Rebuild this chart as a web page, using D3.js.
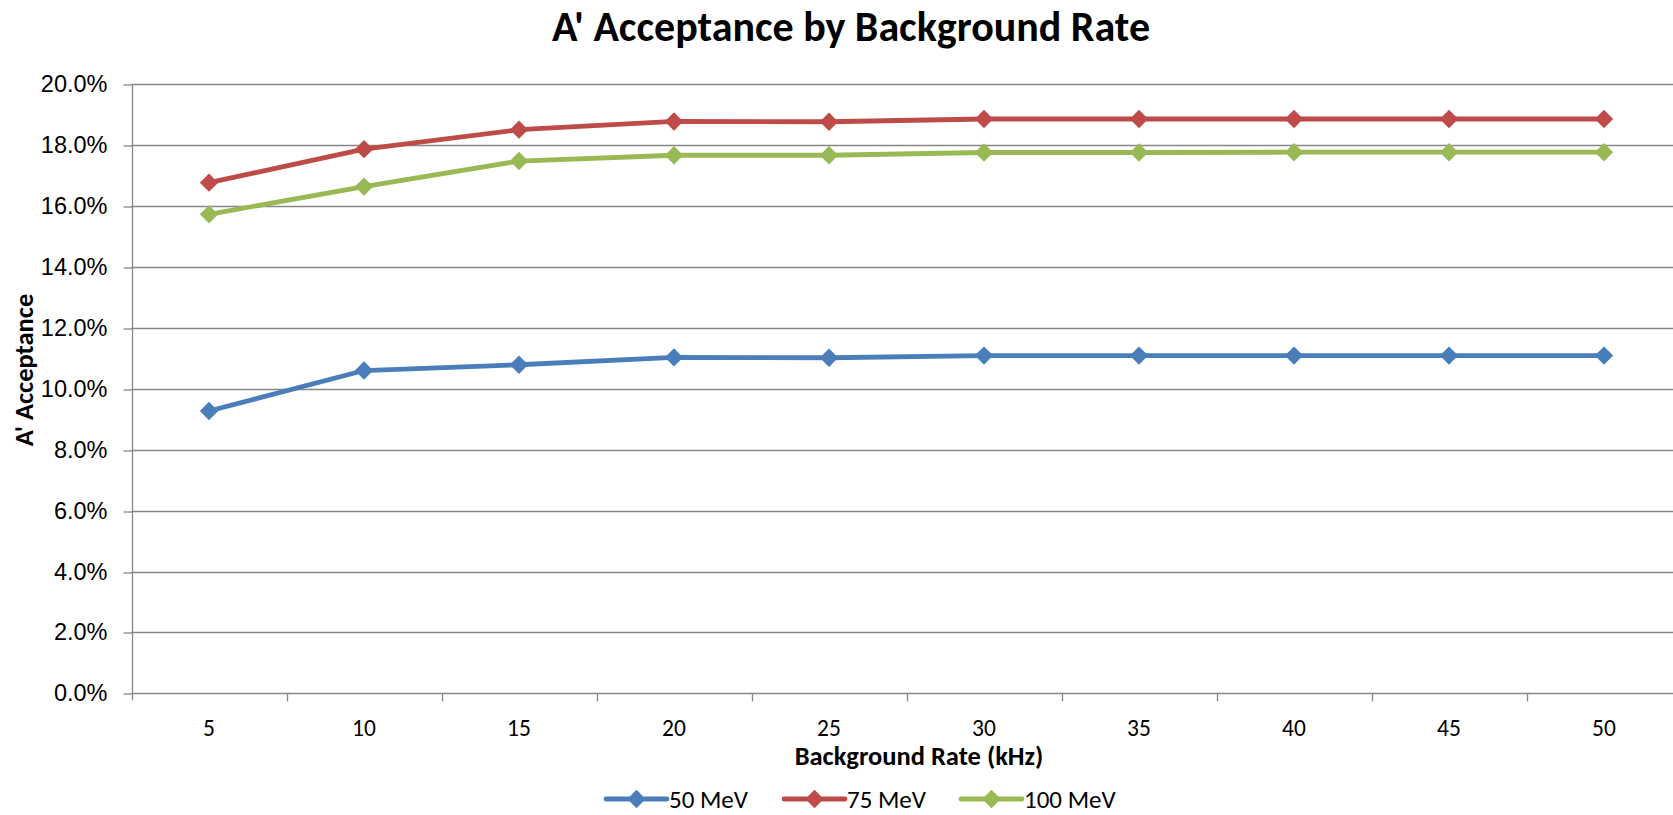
<!DOCTYPE html>
<html>
<head>
<meta charset="utf-8">
<script src="https://cdn.jsdelivr.net/npm/d3@7"></script>
<style>
  html, body { margin: 0; padding: 0; background: #fff; overflow: hidden; }
  svg { display: block; font-family: Carlito, Lato, "Open Sans", sans-serif; }
</style>
</head>
<body>
<svg id="chart" width="1673" height="815"></svg>
<script>
// Background rate categories (kHz)
const rates = ["5", "10", "15", "20", "25", "30", "35", "40", "45", "50"];

// A' acceptance per beam energy
const acc50  = [0.0927, 0.1060, 0.1079, 0.1103, 0.1102, 0.1109, 0.1109, 0.1109, 0.1109, 0.1109];
const acc75  = [0.1677, 0.1787, 0.1851, 0.1878, 0.1877, 0.1886, 0.1886, 0.1886, 0.1886, 0.1886];
const acc100 = [0.1573, 0.1664, 0.1748, 0.1767, 0.1767, 0.1776, 0.1776, 0.1777, 0.1777, 0.1777];

const seriesNames = ["50 MeV", "75 MeV", "100 MeV"];
const yTicks = [0, 0.02, 0.04, 0.06, 0.08, 0.10, 0.12, 0.14, 0.16, 0.18, 0.20];

const colors = ["#4A7EBB", "#BE4B48", "#98B954"];
const series = [acc50, acc75, acc100].map((values, i) => ({
  name: seriesNames[i], color: colors[i], values
}));

const svg = d3.select("#chart");
const plot = { left: 131.5, right: 1681.5, top: 84.3, bottom: 693.3 };
const gridColor = "#878787";

const x = d3.scaleBand().domain(rates).range([plot.left, plot.right]).padding(0);
const y = d3.scaleLinear().domain([0, 0.20]).range([plot.bottom, plot.top]);
const cx = d => x(d) + x.bandwidth() / 2;

// Title
svg.append("text")
  .attr("x", 851).attr("y", 41)
  .attr("text-anchor", "middle")
  .style("font-weight", "bold").style("font-size", "42px")
  .text("A' Acceptance by Background Rate");

// Horizontal gridlines
svg.append("g").selectAll("line").data(yTicks.slice(1)).join("line")
  .attr("x1", plot.left).attr("x2", plot.right)
  .attr("y1", d => Math.round(y(d)) + 0.5).attr("y2", d => Math.round(y(d)) + 0.5)
  .attr("stroke", gridColor).attr("stroke-width", 1.3);

// Y axis
const yAxis = svg.append("g")
  .attr("transform", `translate(${Math.round(plot.left) + 0.5},0)`)
  .call(d3.axisLeft(y).tickValues(yTicks).tickFormat(d3.format(".1%")).tickSize(9).tickPadding(16));
yAxis.select(".domain").remove();
yAxis.append("line")
  .attr("x1", 0).attr("x2", 0)
  .attr("y1", plot.top).attr("y2", plot.bottom + 7)
  .attr("stroke", gridColor).attr("stroke-width", 1.3);
yAxis.selectAll(".tick line").attr("stroke", gridColor).attr("stroke-width", 1.3)
  .attr("transform", d => `translate(0,${Math.round(y(d)) + 0.5 - y(d)})`);
yAxis.selectAll(".tick text")
  .style("font-size", "23.5px").style("font-family", null).attr("fill", "#000");

// X axis: ticks at category boundaries, labels at centres
const xAxis = svg.append("g").attr("transform", `translate(0,${Math.round(plot.bottom) + 0.5})`);
xAxis.append("line")
  .attr("x1", plot.left).attr("x2", plot.right)
  .attr("stroke", gridColor).attr("stroke-width", 1.3);
xAxis.selectAll("line.tk").data(rates.slice(1)).join("line").attr("class", "tk")
  .attr("x1", d => Math.round(x(d)) + 0.5).attr("x2", d => Math.round(x(d)) + 0.5)
  .attr("y1", 0).attr("y2", 8)
  .attr("stroke", gridColor).attr("stroke-width", 1.3);
xAxis.selectAll("text").data(rates).join("text")
  .attr("x", d => cx(d)).attr("y", 42)
  .attr("text-anchor", "middle")
  .style("font-size", "23.5px")
  .text(d => d);

// Axis titles
svg.append("text")
  .attr("x", 919).attr("y", 765)
  .attr("text-anchor", "middle")
  .style("font-weight", "bold").style("font-size", "26.5px")
  .text("Background Rate (kHz)");

svg.append("text")
  .attr("transform", "translate(33,370) rotate(-90)")
  .attr("text-anchor", "middle")
  .style("font-weight", "bold").style("font-size", "26.5px")
  .text("A' Acceptance");

// Series lines and diamond markers
const line = d3.line().x((v, i) => cx(rates[i])).y(v => y(v));
const diamond = d3.symbol().type(d3.symbolDiamond2).size(215);

const gSeries = svg.append("g").selectAll("g").data(series).join("g");
gSeries.append("path")
  .attr("d", d => line(d.values))
  .attr("fill", "none").attr("stroke", d => d.color)
  .attr("stroke-width", 4.8).attr("stroke-linejoin", "round");
gSeries.selectAll("path.mk").data(d => d.values.map((v, i) => ({ v, i, color: d.color }))).join("path")
  .attr("class", "mk")
  .attr("transform", d => `translate(${cx(rates[d.i])},${y(d.v)})`)
  .attr("d", diamond)
  .attr("fill", d => d.color);

// Legend
const legendX = [606, 784, 961];
const legend = svg.append("g").selectAll("g").data(series).join("g")
  .attr("transform", (d, i) => `translate(${legendX[i]},799)`);
legend.append("line")
  .attr("x1", 0).attr("x2", 61)
  .attr("stroke", d => d.color).attr("stroke-width", 4.8).attr("stroke-linecap", "round");
legend.append("path")
  .attr("transform", "translate(30.5,0)")
  .attr("d", diamond)
  .attr("fill", d => d.color);
legend.append("text")
  .attr("x", 63).attr("y", 8.5)
  .style("font-size", "25px")
  .text(d => d.name);
</script>
</body>
</html>
